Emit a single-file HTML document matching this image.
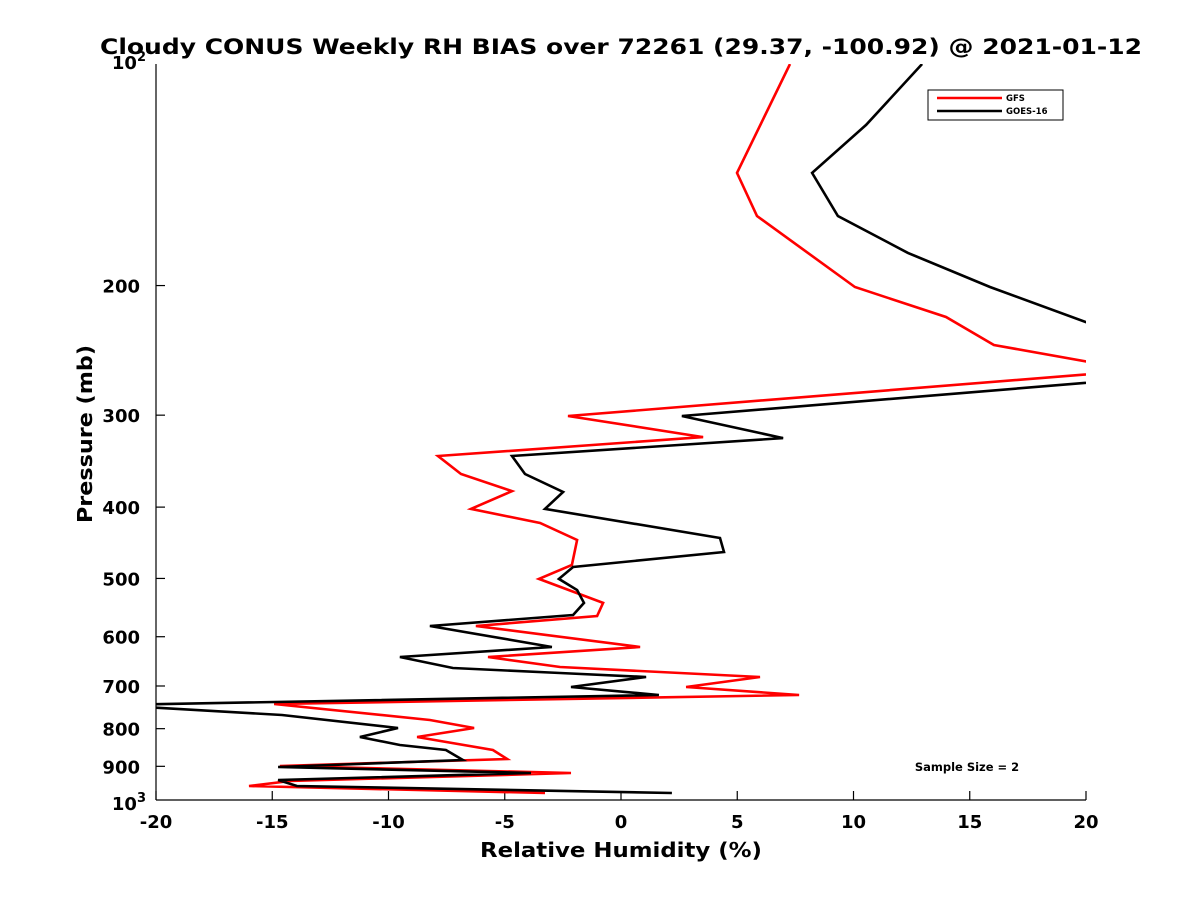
<!DOCTYPE html>
<html><head><meta charset="utf-8"><style>
html,body{margin:0;padding:0;background:#fff;}
svg{display:block;font-family:"DejaVu Sans","Liberation Sans",sans-serif;}
</style></head><body>
<svg id="chart" width="1200" height="900" viewBox="0 0 1200 900" xmlns="http://www.w3.org/2000/svg">
<rect width="1200" height="900" fill="#fff"/>
<defs><clipPath id="plotclip"><rect x="156" y="64" width="930" height="736"/></clipPath></defs>
<text x="100" y="54" textLength="1042" lengthAdjust="spacingAndGlyphs" font-size="21" font-weight="bold">Cloudy CONUS Weekly RH BIAS over 72261 (29.37, -100.92) @ 2021-01-12</text>
<g id="axes"></g>
<g id="series" clip-path="url(#plotclip)"></g>
<text x="480" y="857" textLength="282" lengthAdjust="spacingAndGlyphs" font-size="20" font-weight="bold">Relative Humidity (%)</text>
<text transform="translate(92,523) rotate(-90)" textLength="178" lengthAdjust="spacingAndGlyphs" font-size="20" font-weight="bold">Pressure (mb)</text>
<g>
<rect x="928" y="90" width="135" height="30" fill="#fff" stroke="#000" stroke-width="1"/>
<line x1="937" y1="98" x2="1002" y2="98" stroke="#ff0000" stroke-width="2.5"/>
<text x="1006" y="101" font-size="8.5" font-weight="bold">GFS</text>
<line x1="937" y1="111" x2="1002" y2="111" stroke="#000" stroke-width="2.5"/>
<text x="1006" y="114" font-size="8.5" font-weight="bold">GOES-16</text>
</g>
<text x="967" y="771" text-anchor="middle" font-size="11.5" font-weight="bold">Sample Size = 2</text>
</svg>
<script>
const xTicks = [-20,-15,-10,-5,0,5,10,15,20];
const yTicks = [200,300,400,500,600,700,800,900];
const gfsPressure = [100,140.6,160.9,200.9,220.7,240.9,260.8,300.8,321.3,340.9,360.6,380.4,402.3,420.4,443.4,479.3,500.7,539.8,562.3,580.2,619.6,639.3,659.6,680.6,702.3,720.0,740.6,778.6,798.4,821.2,855.3,879.7,899.1,919.0,942.3,957.2,978.4];
const gfsValues = [7.27,4.99,5.85,10.06,13.98,16.04,22.15,-2.28,3.53,-7.87,-6.88,-4.69,-6.45,-3.48,-1.89,-2.11,-3.53,-0.77,-1.03,-6.24,0.82,-5.72,-2.62,5.98,2.80,7.66,-14.92,-8.22,-6.32,-8.77,-5.51,-4.90,-14.67,-2.15,-14.24,-16.0,-3.27];
const goesPressure = [100,121.0,140.6,160.9,180.6,200.9,224.2,261.9,300.8,322.3,340.9,360.6,381.5,402.3,440.6,460.3,482.4,500.7,518.4,539.8,560.5,580.2,619.6,639.3,661.7,672.1,680.6,702.3,720.0,743.0,766.5,798.4,821.2,842.0,855.3,882.5,902.0,919.0,939.3,957.2,978.4];
const goesValues = [12.95,10.54,8.22,9.33,12.34,15.87,20,25.85,2.62,6.97,-4.69,-4.13,-2.49,-3.27,4.26,4.43,-2.06,-2.67,-1.89,-1.59,-2.06,-8.22,-2.97,-9.51,-7.23,-2.62,1.08,-2.15,1.63,-22,-14.58,-9.59,-11.23,-9.51,-7.53,-6.80,-14.75,-3.87,-14.75,-13.94,2.19];

const NS='http://www.w3.org/2000/svg';
const X0=156,X1=1086,Y0=64,Y1=800;
function xs(v){return X0+(v+20)/40*(X1-X0);}
function ys(p){return Y0+Math.log10(p/100)*(Y1-Y0);}
function mk(tag,attrs,parent){const e=document.createElementNS(NS,tag);for(const k in attrs)e.setAttribute(k,attrs[k]);parent.appendChild(e);return e;}
const axes=document.getElementById('axes');
const xa=mk('line',{x1:X0,y1:Y1,x2:X1,y2:Y1,stroke:'#000','stroke-width':1.2},axes);


const ya=mk('line',{x1:X0,y1:Y0,x2:X0,y2:Y1,stroke:'#000','stroke-width':1.2},axes);


xTicks.forEach(v=>{
  const x=xs(v);
  mk('line',{x1:x,y1:Y1,x2:x,y2:Y1-9,stroke:'#000','stroke-width':1.2},axes);
  const t=mk('text',{x:x,y:Y1+28,'text-anchor':'middle','font-size':18,'font-weight':'bold'},axes);
  
  
  t.textContent=String(v);
});
yTicks.forEach(p=>{
  const y=ys(p);
  mk('line',{x1:X0,y1:y,x2:X0+9,y2:y,stroke:'#000','stroke-width':1.2},axes);
  const t=mk('text',{x:X0-16,y:y+7,'text-anchor':'end','font-size':18,'font-weight':'bold'},axes);
  
  
  t.textContent=String(p);
});
[[100,'2',5],[1000,'3',10]].forEach(([p,e,dy])=>{
  const y=ys(p);
  const t=mk('text',{x:X0-10,y:y+dy,'text-anchor':'end','font-size':18,'font-weight':'bold'},axes);
  
  
  t.innerHTML='10<tspan dy="-8" font-size="13">'+e+'</tspan>';
});
const series=document.getElementById('series');
function drawLine(ps,vs,color,name){
  const pts=ps.map((p,i)=>xs(vs[i]).toFixed(1)+','+ys(p).toFixed(1)).join(' ');
  const pl=mk('polyline',{points:pts,fill:'none',stroke:color,'stroke-width':2.6,'stroke-linejoin':'miter'},series);
  
  
}
drawLine(gfsPressure,gfsValues,'#ff0000','gfs-line');
drawLine(goesPressure,goesValues,'#000000','goes16-line');
</script>
</body></html>
